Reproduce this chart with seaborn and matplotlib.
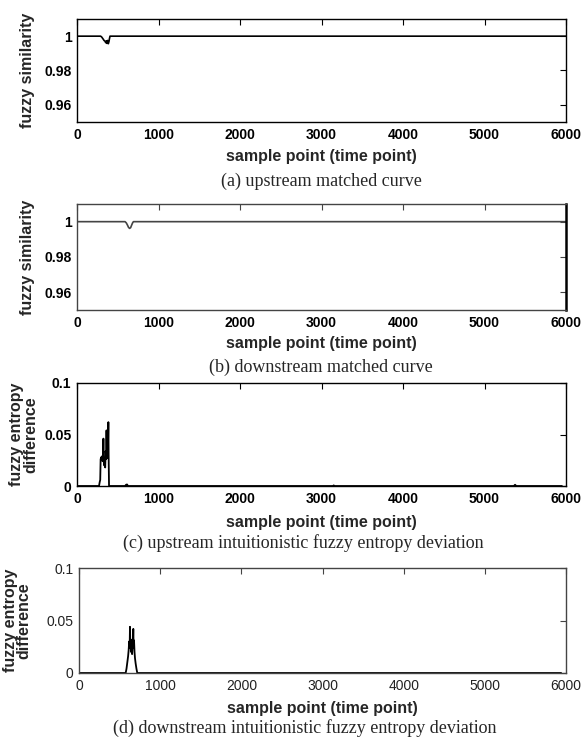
import matplotlib
matplotlib.use("Agg")
import matplotlib.pyplot as plt
import seaborn as sns

# panel (a): upstream fuzzy similarity
up_sim_x = [0, 290, 303, 318, 332, 345, 352, 360, 368, 376, 384, 392, 398, 405, 6000]
up_sim_y = [1, 1, 0.9995, 0.9985, 0.9975, 0.997, 0.9962, 0.9972, 0.9958, 0.9975, 0.9956, 0.9968, 0.9985, 1, 1]

# panel (b): downstream fuzzy similarity
dn_sim_x = [0, 590, 605, 620, 632, 645, 658, 670, 682, 692, 6000]
dn_sim_y = [1, 1, 0.9993, 0.998, 0.9968, 0.9962, 0.9966, 0.998, 0.9993, 1, 1]

# panel (c): upstream entropy difference
up_ent_x = [0, 270, 279, 285, 290, 297, 303, 309, 315, 320, 324, 328, 334, 340, 346,
            352, 358, 362, 366, 370, 374, 380, 385, 388, 393, 398,
            590, 602, 614, 626, 3140, 3150, 3160, 5360, 5375, 5390, 5950]
up_ent_y = [0, 0, 0.004, 0.006, 0.026, 0.028, 0.025, 0.029, 0.024, 0.03, 0.046, 0.026, 0.02, 0.024, 0.018,
            0.034, 0.026, 0.054, 0.03, 0.035, 0.027, 0.036, 0.062, 0.03, 0, 0,
            0, 0.0012, 0.0015, 0, 0, 0.0006, 0, 0, 0.0012, 0, 0]

# panel (d): downstream entropy difference
dn_ent_x = [0, 575, 585, 595, 605, 612, 618, 624, 628, 632, 637, 642, 648, 654, 660,
            665, 669, 673, 678, 684, 690, 698, 708, 718, 5940]
dn_ent_y = [0, 0, 0.004, 0.01, 0.016, 0.022, 0.03, 0.024, 0.044, 0.028, 0.032, 0.02, 0.03, 0.018, 0.026,
            0.03, 0.042, 0.024, 0.031, 0.02, 0.014, 0.009, 0.004, 0, 0]

x_ticks = [0, 1000, 2000, 3000, 4000, 5000, 6000]
sim_ticks = [0.96, 0.98, 1]
sim_labels = ["0.96", "0.98", "1"]
ent_ticks = [0, 0.05, 0.1]
ent_labels = ["0", "0.05", "0.1"]

xlabel = "sample point (time point)"
captions = ["(a) upstream matched curve",
            "(b) downstream matched curve",
            "(c) upstream intuitionistic fuzzy entropy deviation",
            "(d) downstream intuitionistic fuzzy entropy deviation"]

sns.set_style("white")
plt.rcParams["font.family"] = ["Liberation Sans", "DejaVu Sans"]

W, H = 584, 740
fig = plt.figure(figsize=(W / 100, H / 100), dpi=100)

bold = dict(family=["Liberation Sans", "DejaVu Sans"], weight="bold", size=11.5)
serif = dict(family=["Liberation Serif", "DejaVu Serif"], size=13)


def make_ax(left, top, right, bottom):
    # pixel box -> figure fraction
    return fig.add_axes([left / W, 1 - bottom / H, (right - left) / W, (bottom - top) / H])


def draw_panel(ax, x, y, ylim, yticks, ylabels, ylab, ylab_x, xlab_y, line_color="black",
               spine_color="black", lw=1.2, tick_bold=True):
    sns.lineplot(x=x, y=y, ax=ax, color=line_color, linewidth=lw, estimator=None)
    ax.set_xlim(0, 6000)
    ax.set_ylim(*ylim)
    ax.set_xticks(x_ticks)
    ax.set_xticklabels([str(t) for t in x_ticks])
    ax.set_yticks(yticks)
    ax.set_yticklabels(ylabels)
    ax.tick_params(direction="in", top=True, right=True, length=4, width=0.8,
                   color=spine_color, pad=4)
    weight = "bold" if tick_bold else "normal"
    for lab in ax.get_xticklabels() + ax.get_yticklabels():
        lab.set_fontweight(weight)
        lab.set_fontsize(10)
        lab.set_color("black" if tick_bold else "#222222")
    for s in ax.spines.values():
        s.set_color(spine_color)
        s.set_linewidth(1.0)
        s.set_visible(True)
    ax.set_xlabel(xlabel, **bold)
    ax.xaxis.set_label_coords(0.5, xlab_y)
    ax.set_ylabel(ylab, linespacing=0.9, **bold)
    ax.yaxis.set_label_coords(ylab_x, 0.5)
    ax.set_facecolor("white")


ax_a = make_ax(77, 19, 566, 122)
draw_panel(ax_a, up_sim_x, up_sim_y, (0.95, 1.01), sim_ticks, sim_labels,
           "fuzzy similarity", -0.085, -0.26)

ax_b = make_ax(77, 204, 566, 310)
draw_panel(ax_b, dn_sim_x, dn_sim_y, (0.95, 1.01), sim_ticks, sim_labels,
           "fuzzy similarity", -0.085, -0.245, line_color="#444444", spine_color="#444444")
ax_b.spines["right"].set_color("black")
ax_b.spines["right"].set_linewidth(1.8)

ax_c = make_ax(77, 383, 566, 486)
draw_panel(ax_c, up_ent_x, up_ent_y, (0, 0.1), ent_ticks, ent_labels,
           "fuzzy entropy\ndifference", -0.08, -0.28, lw=1.3)

ax_d = make_ax(79, 568, 566, 673)
draw_panel(ax_d, dn_ent_x, dn_ent_y, (0, 0.1), ent_ticks, ent_labels,
           "fuzzy entropy\ndifference", -0.097, -0.265, spine_color="#444444",
           lw=1.3, tick_bold=False)

caption_pos = [(321, 181), (321, 367), (303, 543), (305, 728)]
for (cx, cy), text in zip(caption_pos, captions):
    fig.text(cx / W, 1 - cy / H, text, ha="center", va="center", **serif)

fig.savefig("out.png", dpi=100, facecolor="white")
